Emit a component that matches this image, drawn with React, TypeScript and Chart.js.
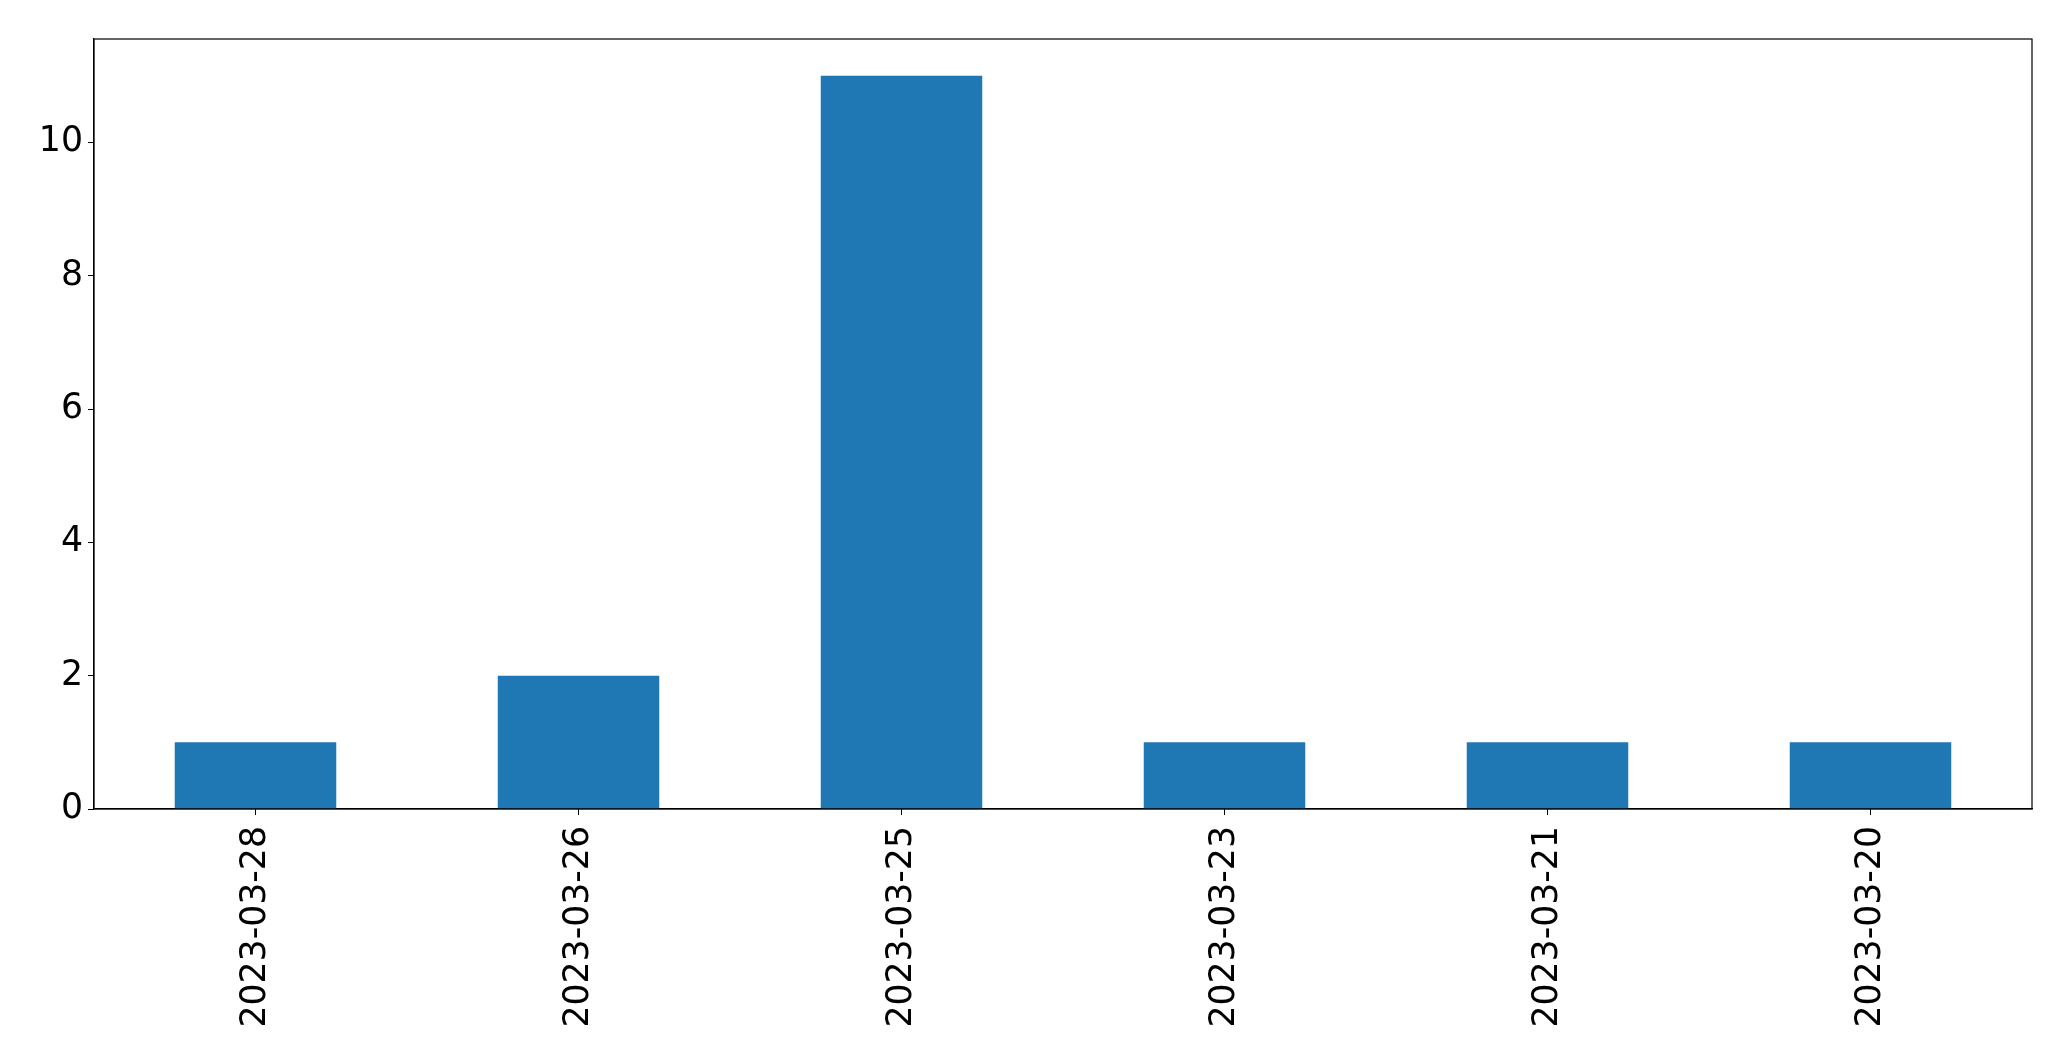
import React, { useEffect, useRef } from "react";
import { Chart, registerables } from "chart.js";

Chart.register(...registerables);

const categories = ["2023-03-28", "2023-03-26", "2023-03-25", "2023-03-23", "2023-03-21", "2023-03-20"];
const counts = [1, 2, 11, 1, 1, 1];
const yTicks = [0, 2, 4, 6, 8, 10];
const yMax = 11.55;

const FONT = "'DejaVu Sans', sans-serif";

const framePlugin = {
  id: "frame",
  afterDraw(chart: any) {
    const { ctx, chartArea } = chart;
    ctx.save();
    ctx.strokeStyle = "#000";
    ctx.lineWidth = 1.2;
    ctx.strokeRect(chartArea.left, chartArea.top, chartArea.right - chartArea.left, chartArea.bottom - chartArea.top);
    ctx.restore();
  },
};

export default function App() {
  const ref = useRef<HTMLCanvasElement | null>(null);
  useEffect(() => {
    if (!ref.current) return;
    const chart = new Chart(ref.current, {
      type: "bar",
      data: {
        labels: categories,
        datasets: [
          {
            data: counts,
            backgroundColor: "#1f77b4",
            borderWidth: 0,
            barPercentage: 0.5,
            categoryPercentage: 1,
          },
        ],
      },
      plugins: [framePlugin],
      options: {
        animation: false,
        responsive: false,
        maintainAspectRatio: false,
        layout: { padding: { top: 39, right: 39, left: 0, bottom: 0 } },
        plugins: { legend: { display: false }, tooltip: { enabled: false } },
        scales: {
          x: {
            offset: true,
            grid: { display: true, drawOnChartArea: false, drawTicks: true, tickLength: 6, color: "#000", offset: false },
            border: { display: true, color: "#000", width: 1.2 },
            ticks: {
              color: "#000",
              font: { family: FONT, size: 34.7 },
              minRotation: 90,
              maxRotation: 90,
              padding: 11,
              autoSkip: false,
            },
            afterFit(axis: any) {
              axis.height = 1061 - 809;
            },
          },
          y: {
            min: 0,
            max: yMax,
            grid: { display: true, drawOnChartArea: false, drawTicks: true, tickLength: 6, color: "#000" },
            border: { display: true, color: "#000", width: 1.2 },
            ticks: {
              color: "#000",
              font: { family: FONT, size: 34.7 },
              padding: 5,
            },
            afterBuildTicks(axis: any) {
              axis.ticks = yTicks.map((v) => ({ value: v }));
            },
            afterFit(axis: any) {
              axis.width = 94;
            },
          },
        },
      },
    });
    return () => chart.destroy();
  }, []);
  return (
    <div style={{ position: "fixed", left: 0, top: 0, width: 2071, height: 1061, background: "#fff" }}>
      <canvas ref={ref} width={2071} height={1061} style={{ width: 2071, height: 1061 }} />
    </div>
  );
}
